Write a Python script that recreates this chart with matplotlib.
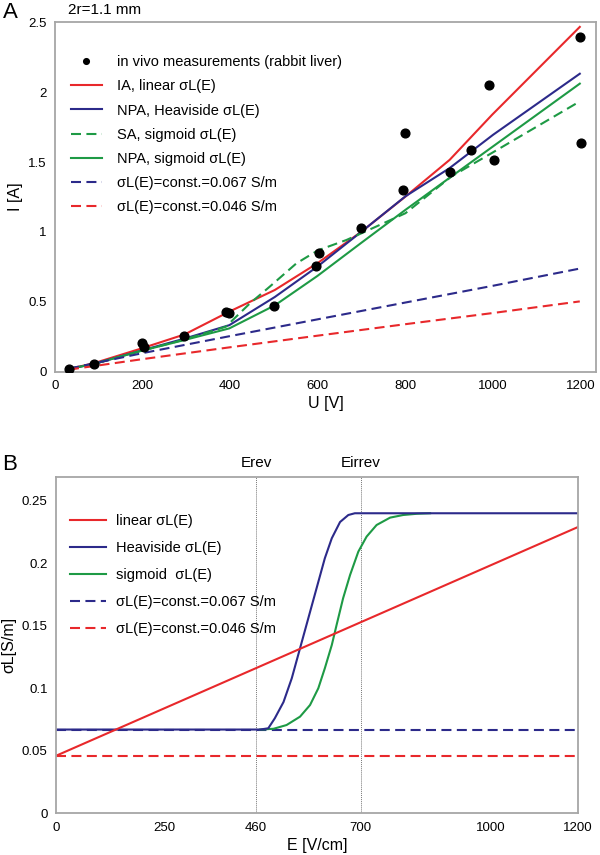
import matplotlib
matplotlib.use("Agg")
import matplotlib.pyplot as plt

plt.rcParams['font.family'] = ['Liberation Sans', 'DejaVu Sans']

# ---------------- Panel A data ----------------
U_meas = [33, 90, 198, 204, 294, 390, 397, 500, 596, 603, 699, 795, 798, 902, 950, 990, 1002, 1198, 1200]
I_meas = [0.017, 0.057, 0.202, 0.180, 0.255, 0.424, 0.418, 0.473, 0.758, 0.850, 1.028, 1.298, 1.707, 1.430, 1.584, 2.051, 1.515, 2.393, 1.633]

U_ia = [32, 88, 198, 296, 398, 502, 599, 700, 800, 901, 998, 1198]
I_ia = [0.02, 0.06, 0.167, 0.267, 0.43, 0.585, 0.776, 1.003, 1.253, 1.516, 1.839, 2.467]

U_npa_h = [32, 88, 198, 296, 398, 502, 599, 700, 800, 900, 1000, 1198]
I_npa_h = [0.02, 0.055, 0.152, 0.237, 0.333, 0.535, 0.752, 1.003, 1.255, 1.455, 1.695, 2.132]

U_sa = [32, 88, 198, 293, 390, 445, 490, 551, 600, 665, 700, 800, 905, 1000, 1198]
I_sa = [0.02, 0.055, 0.15, 0.228, 0.322, 0.489, 0.608, 0.775, 0.868, 0.942, 0.991, 1.134, 1.397, 1.57, 1.934]

U_npa_s = [32, 88, 198, 296, 398, 502, 599, 700, 800, 905, 1198]
I_npa_s = [0.02, 0.055, 0.15, 0.227, 0.31, 0.475, 0.685, 0.924, 1.158, 1.397, 2.061]

U_c067 = [32, 200, 400, 600, 800, 1000, 1198]
I_c067 = [0.022, 0.133, 0.255, 0.375, 0.495, 0.615, 0.738]

U_c046 = [32, 200, 400, 600, 800, 1000, 1198]
I_c046 = [0.015, 0.09, 0.175, 0.258, 0.34, 0.42, 0.503]

A_xticks = [0, 200, 400, 600, 800, 1000, 1200]
A_yticks = [0, 0.5, 1, 1.5, 2, 2.5]
A_yticklabels = ['0', '0.5', '1', '1.5', '2', '2.5']

# ---------------- Panel B data ----------------
E_lin = [0, 1200]
S_lin = [0.046, 0.229]

E_heav = [0, 469, 488, 503, 523, 542, 561, 580, 599, 618, 634, 653, 672, 687, 1200]
S_heav = [0.067, 0.067, 0.068, 0.076, 0.089, 0.108, 0.132, 0.156, 0.180, 0.204, 0.220, 0.233, 0.2386, 0.240, 0.240]

E_sig = [469, 500, 530, 561, 584, 603, 618, 634, 645, 660, 676, 695, 714, 737, 768, 798, 830, 860]
S_sig = [0.067, 0.0676, 0.0706, 0.0773, 0.0866, 0.100, 0.116, 0.1346, 0.1506, 0.172, 0.1906, 0.2093, 0.2213, 0.2306, 0.2365, 0.2386, 0.2396, 0.240]

E_const = [0, 1200]
S_c067 = [0.067, 0.067]
S_c046 = [0.046, 0.046]

E_marks = [460, 700]
E_mark_labels = ['Erev', 'Eirrev']

B_xticks = [0, 250, 460, 700, 1000, 1200]
B_yticks = [0, 0.05, 0.1, 0.15, 0.2, 0.25]
B_yticklabels = ['0', '0.05', '0.1', '0.15', '0.2', '0.25']

# ---------------- styling ----------------
RED = '#e8282b'
BLUE = '#2c2a8a'
GREEN = '#1e9a45'
DASH = (0, (4.8, 2.6))
LW = 1.5
SPINE = '#a6a6a6'
TICKFS = 9.5
LABFS = 11.5
LEGFS = 10.5

fig = plt.figure(figsize=(6.0, 8.55), dpi=100)

def style_axes(ax):
    for s in ax.spines.values():
        s.set_color(SPINE)
        s.set_linewidth(1.3)
    ax.tick_params(length=0, labelsize=TICKFS, pad=6)

# ---------------- Panel A ----------------
axA = fig.add_axes([55/600, 1-371.7/855, 541/600, 349.4/855])
style_axes(axA)
hA_pts, = axA.plot(U_meas, I_meas, 'o', color='black', ms=6.3, zorder=5, linestyle='none')
hA_ia, = axA.plot(U_ia, I_ia, color=RED, lw=LW)
hA_nh, = axA.plot(U_npa_h, I_npa_h, color=BLUE, lw=LW)
hA_sa, = axA.plot(U_sa, I_sa, color=GREEN, lw=LW, linestyle=DASH)
hA_ns, = axA.plot(U_npa_s, I_npa_s, color=GREEN, lw=LW)
hA_c1, = axA.plot(U_c067, I_c067, color=BLUE, lw=LW, linestyle=DASH)
hA_c2, = axA.plot(U_c046, I_c046, color=RED, lw=LW, linestyle=DASH)
axA.set_xlim(0, 1235)
axA.set_ylim(0, 2.5)
axA.set_xticks(A_xticks)
axA.set_xticklabels([str(v) for v in A_xticks])
axA.set_yticks(A_yticks)
axA.set_yticklabels(A_yticklabels)
axA.set_xlabel('U [V]', fontsize=LABFS, labelpad=3)
axA.set_ylabel('I [A]', fontsize=LABFS, labelpad=4)
axA.legend([hA_pts, hA_ia, hA_nh, hA_sa, hA_ns, hA_c1, hA_c2],
           ['in vivo measurements (rabbit liver)', 'IA, linear σL(E)',
            'NPA, Heaviside σL(E)', 'SA, sigmoid σL(E)', 'NPA, sigmoid σL(E)',
            'σL(E)=const.=0.067 S/m', 'σL(E)=const.=0.046 S/m'],
           loc='upper left', bbox_to_anchor=(0.029, 0.906), frameon=False,
           fontsize=LEGFS, handlelength=2.15, handletextpad=1.0,
           labelspacing=0.70, borderpad=0, borderaxespad=0, markerscale=0.65)

fig.text(3/600, 1-12/855, 'A', fontsize=16, va='center', ha='left')
fig.text(68/600, 1-10/855, '2r=1.1 mm', fontsize=11, va='center', ha='left')

# ---------------- Panel B ----------------
axB = fig.add_axes([56/600, 1-813.3/855, 522/600, 336.3/855])
style_axes(axB)
for e in E_marks:
    axB.axvline(e, color='#777777', lw=0.7, linestyle=(0, (1, 1)), zorder=1)
hB_c1, = axB.plot(E_const, S_c067, color=BLUE, lw=LW, linestyle=DASH)
hB_c2, = axB.plot(E_const, S_c046, color=RED, lw=LW, linestyle=DASH)
hB_sig, = axB.plot(E_sig, S_sig, color=GREEN, lw=LW)
hB_heav, = axB.plot(E_heav, S_heav, color=BLUE, lw=LW)
hB_lin, = axB.plot(E_lin, S_lin, color=RED, lw=LW)
axB.set_xlim(0, 1200)
axB.set_ylim(0, 0.269)
axB.set_xticks(B_xticks)
axB.set_xticklabels([str(v) for v in B_xticks])
axB.set_yticks(B_yticks)
axB.set_yticklabels(B_yticklabels)
axB.set_xlabel('E [V/cm]', fontsize=LABFS, labelpad=3)
axB.set_ylabel('σL[S/m]', fontsize=LABFS, labelpad=4)
for e, lab in zip(E_marks, E_mark_labels):
    axB.text(e, 1.02, lab, transform=axB.get_xaxis_transform(), ha='center',
             va='bottom', fontsize=11)
axB.legend([hB_lin, hB_heav, hB_sig, hB_c1, hB_c2],
           ['linear σL(E)', 'Heaviside σL(E)', 'sigmoid  σL(E)',
            'σL(E)=const.=0.067 S/m', 'σL(E)=const.=0.046 S/m'],
           loc='upper left', bbox_to_anchor=(0.027, 0.891), frameon=False,
           fontsize=LEGFS, handlelength=2.45, handletextpad=0.7,
           labelspacing=0.90, borderpad=0, borderaxespad=0)

fig.text(2/600, 1-464/855, 'B', fontsize=16, va='center', ha='left')

fig.savefig('out.png', dpi=100)
